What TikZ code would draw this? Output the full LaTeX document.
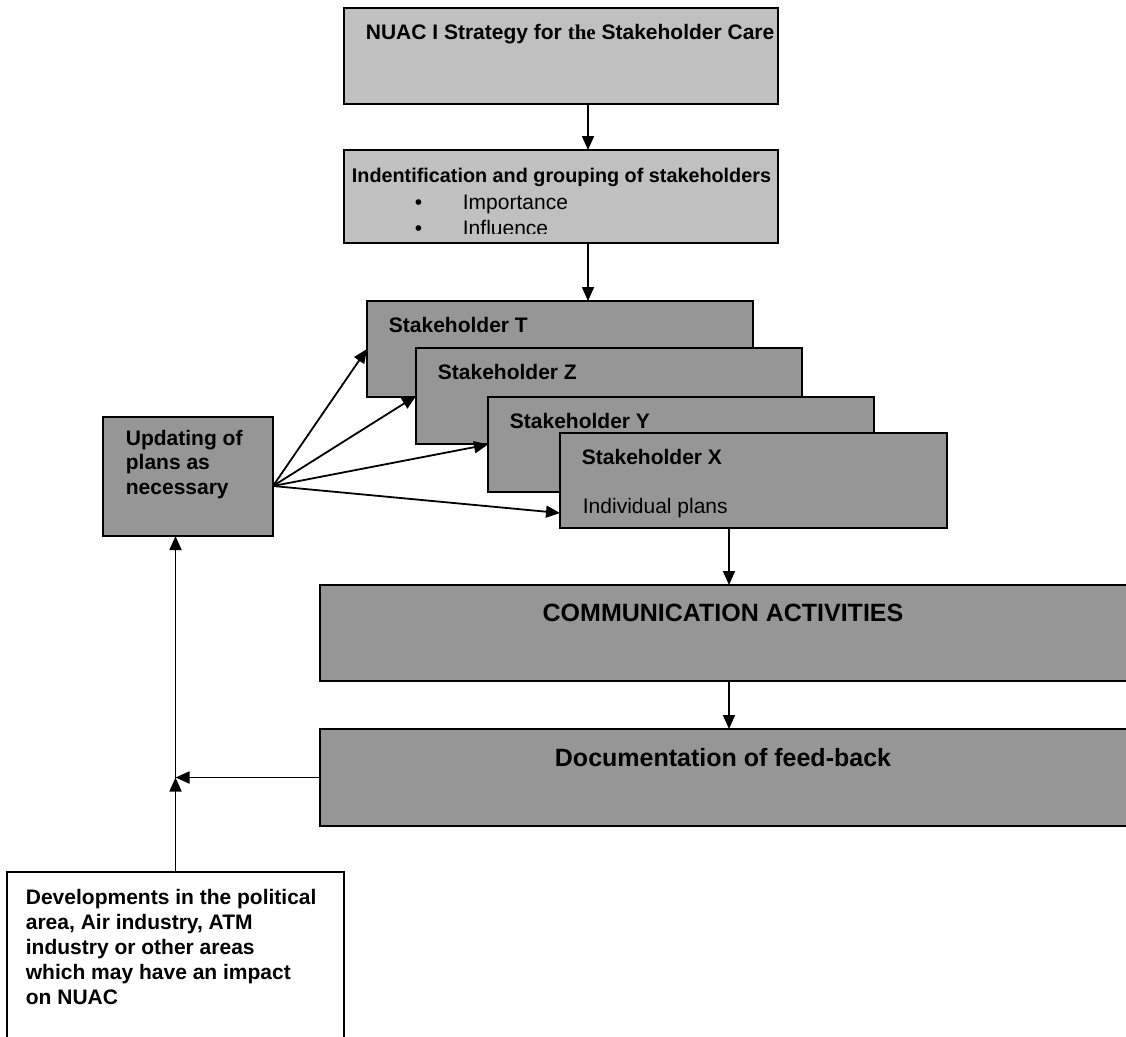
\documentclass[tikz,border=0pt]{standalone}
\usepackage{fontspec}
\setmainfont{Liberation Sans}
\newfontfamily\timesfont{Liberation Serif}
\usetikzlibrary{arrows.meta}

\definecolor{palegrey}{HTML}{C0C0C0}
\definecolor{darkgrey}{HTML}{969696}
\def\txtsize{\fontsize{21}{24.5}\selectfont}
\def\bigsize{\fontsize{25}{30}\selectfont}

\begin{document}
\begin{tikzpicture}[x=1pt,y=-1pt,line width=1.8pt,>={Triangle[length=14pt,width=12pt]}]
  \tikzstyle{box}=[draw=black,line width=2pt,anchor=north west,inner sep=0pt,outer sep=0pt]
  \tikzstyle{pale}=[box,fill=palegrey]
  \tikzstyle{dark}=[box,fill=darkgrey]
  \tikzstyle{txt}=[anchor=base west,inner sep=0pt,font=\txtsize\bfseries,align=left]
  \tikzstyle{plain}=[txt,font=\txtsize]

  \useasboundingbox (0,0) rectangle (1126,1036);

  % Strategy and grouping
  \node[pale,minimum width=434pt,minimum height=96pt] (strat) at (344,8) {};
  \node[txt] (strattxt) at (365,39) {NUAC I Strategy for {\timesfont the} Stakeholder Care};
  \node[pale,minimum width=434pt,minimum height=93pt] (ident) at (344,150) {};
  \node[txt,font=\fontsize{19.8}{24}\selectfont\bfseries] (identtxt) at (351,182) {Indentification and grouping of stakeholders};
  \node[plain] (dot1) at (414,209) {\textbullet};
  \node[plain] (imp) at (462,209) {Importance};
  \begin{scope}
    \clip (344,150) rectangle (778,233);
    \node[plain] (dot2) at (414,235) {\textbullet};
    \node[plain] (infl) at (462,235) {Influence};
  \end{scope}

  % Stakeholders
  \node[dark,minimum width=386pt,minimum height=96pt] (T) at (367,301) {};
  \node[txt] (Ttxt) at (388,332) {Stakeholder T};
  \node[dark,minimum width=386pt,minimum height=96pt] (Z) at (416,348) {};
  \node[txt] (Ztxt) at (437,379) {Stakeholder Z};
  \node[dark,minimum width=386pt,minimum height=95pt] (Y) at (488,397) {};
  \node[txt] (Ytxt) at (509,428) {Stakeholder Y};
  \node[dark,minimum width=387pt,minimum height=95pt] (X) at (560,433) {};
  \node[txt] (Xtxt) at (581,464) {Stakeholder X};
  \node[plain] (plans) at (582,513) {Individual plans};

  % Updating
  \node[dark,minimum width=170pt,minimum height=119pt] (upd) at (103,417) {};
  \node[txt] (updtxt) at (125,494) {Updating of\\plans as\\necessary};

  % Activities and feed-back
  \node[dark,minimum width=810pt,minimum height=96pt] (comm) at (320,585) {};
  \node[txt,anchor=base,font=\bigsize\bfseries] (commtxt) at (723,621) {COMMUNICATION ACTIVITIES};
  \node[dark,minimum width=810pt,minimum height=97pt] (doc) at (320,729) {};
  \node[txt,anchor=base,font=\bigsize\bfseries] (doctxt) at (723,766) {Documentation of feed-back};

  % Developments
  \node[box,fill=white,minimum width=337pt,minimum height=200pt] (dev) at (7,872) {};
  \node[txt,font=\fontsize{21}{25}\selectfont\bfseries] (devtxt) at (25,1004) {Developments in the political\\area, Air industry, ATM\\industry or other areas\\which may have an impact\\on NUAC};

  % Connectors
  \coordinate (spine) at (588,0);
  \coordinate (spine2) at (729,0);
  \coordinate (fan) at (273,486);
  \coordinate (jn) at (dev.north |- doc.west);
  \draw[->] (strat.south -| spine) -- (ident.north -| spine);
  \draw[->] (ident.south -| spine) -- (T.north -| spine);
  \draw[->] (fan) -- (T.west);
  \draw[->] (fan) -- (Z.west);
  \draw[->] (fan) -- (Y.west);
  \draw[->] (fan) -- (X.west |- 0,513);
  \draw[->] (X.south -| spine2) -- (comm.north -| spine2);
  \draw[->] (comm.south -| spine2) -- (doc.north -| spine2);
  \draw[->] (doc.west) -- (jn);
  \draw[->] (dev.north) -- (jn);
  \draw[->] (jn) -- (upd.south -| jn);
\end{tikzpicture}
\end{document}
